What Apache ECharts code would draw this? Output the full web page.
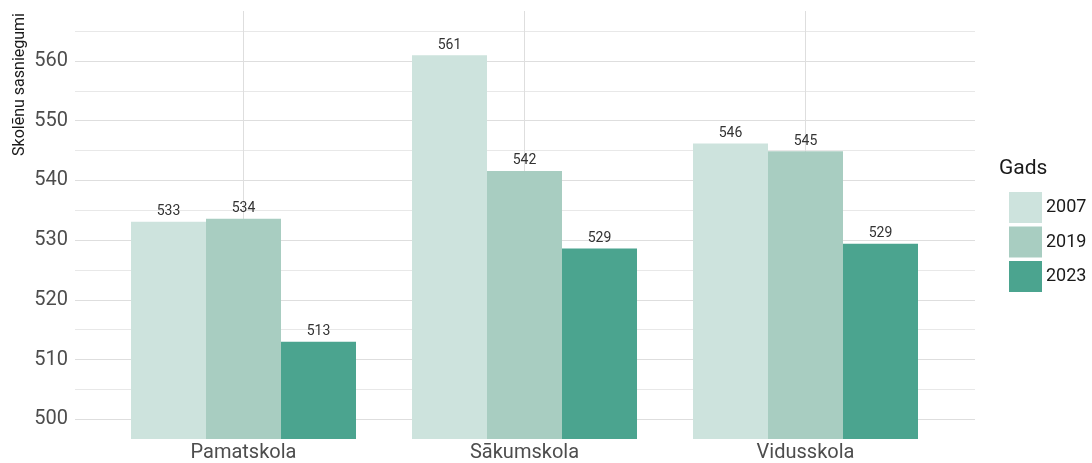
<!DOCTYPE html>
<html><head><meta charset="utf-8">
<script src="https://cdn.jsdelivr.net/npm/echarts@6/dist/echarts.min.js"></script>
<style>html,body{margin:0;padding:0;background:#fff}#c{width:1092px;height:463px}</style>
</head><body><div id="c"></div>
<script>
const categories = ['Pamatskola', 'Sākumskola', 'Vidusskola'];
const years = ['2007', '2019', '2023'];
const values2007 = [533.1, 561.0, 546.2];
const values2019 = [533.6, 541.6, 544.9];
const values2023 = [513.0, 528.6, 529.4];
const yTickLabels = [500, 510, 520, 530, 540, 550, 560];
const yAxisTitle = 'Skolēnu sasniegumi';
const legendTitle = 'Gads';

const seriesValues = [values2007, values2019, values2023];
const colors = ['#cde3dd', '#a8cdc1', '#4ba48f'];
const FONT = 'Roboto, "DejaVu Sans", sans-serif';

const chart = echarts.init(document.getElementById('c'), null, {renderer: 'canvas'});

const option = {
  animation: false,
  backgroundColor: '#ffffff',
  textStyle: {fontFamily: FONT},
  color: colors,
  title: {
    text: legendTitle,
    left: 999, top: 158, padding: 0,
    textStyle: {fontSize: 21, fontWeight: 'normal', color: '#1a1a1a', fontFamily: FONT}
  },
  legend: {
    orient: 'vertical',
    left: 1009, top: 192, padding: 0,
    itemWidth: 33, itemHeight: 31, itemGap: 3.5,
    icon: 'rect',
    data: years,
    textStyle: {fontSize: 18, color: '#1a1a1a', fontFamily: FONT, padding: [0, 0, 0, -1]},
    selectedMode: false
  },
  graphic: [{
    type: 'text',
    x: 20, y: 13,
    rotation: Math.PI / 2,
    style: {
      text: yAxisTitle,
      fill: '#1a1a1a',
      font: '16px Roboto, "DejaVu Sans", sans-serif',
      align: 'right',
      verticalAlign: 'middle'
    }
  }],
  grid: [
    {left: 103, right: 146, top: 11, bottom: 24},
    {left: 75, right: 117, top: 31.1, bottom: 43.7},
    {left: 243.5, right: 286.5, top: 11, bottom: 24}
  ],
  xAxis: [
    {
      gridIndex: 0, type: 'category', data: categories,
      axisLine: {show: false}, axisTick: {show: false}, splitLine: {show: false},
      axisLabel: {fontSize: 20, color: '#4d4d4d', margin: 4, fontFamily: FONT}
    },
    {gridIndex: 1, type: 'value', min: 0, max: 1, show: false},
    {
      gridIndex: 2, type: 'category', data: categories, boundaryGap: false,
      axisLine: {show: false}, axisTick: {show: false}, axisLabel: {show: false},
      splitLine: {show: true, lineStyle: {color: '#dedede', width: 1}}
    }
  ],
  yAxis: [
    {gridIndex: 0, type: 'value', min: 496.7, max: 568.4, show: false, splitLine: {show: false}},
    {
      gridIndex: 1, type: 'value', min: 500, max: 565, interval: 5,
      axisLine: {show: false}, axisTick: {show: false},
      axisLabel: {
        fontSize: 20, color: '#4d4d4d', margin: 7, fontFamily: FONT,
        formatter: v => (yTickLabels.indexOf(Math.round(v)) >= 0 ? String(Math.round(v)) : '')
      },
      splitLine: {show: true, lineStyle: {color: ['#dedede', '#e8e8e8'], width: 1}}
    },
    {gridIndex: 2, type: 'value', min: 0, max: 1, show: false}
  ],
  series: years.map((y, i) => ({
    name: y,
    type: 'bar',
    xAxisIndex: 0, yAxisIndex: 0,
    data: seriesValues[i],
    barWidth: 75,
    barGap: '0%',
    itemStyle: {color: colors[i]},
    label: {
      show: true, position: 'top', distance: 3,
      fontSize: 14, color: '#333333', fontFamily: FONT,
      formatter: p => String(Math.round(p.value))
    }
  }))
};
chart.setOption(option);
</script>
</body></html>
